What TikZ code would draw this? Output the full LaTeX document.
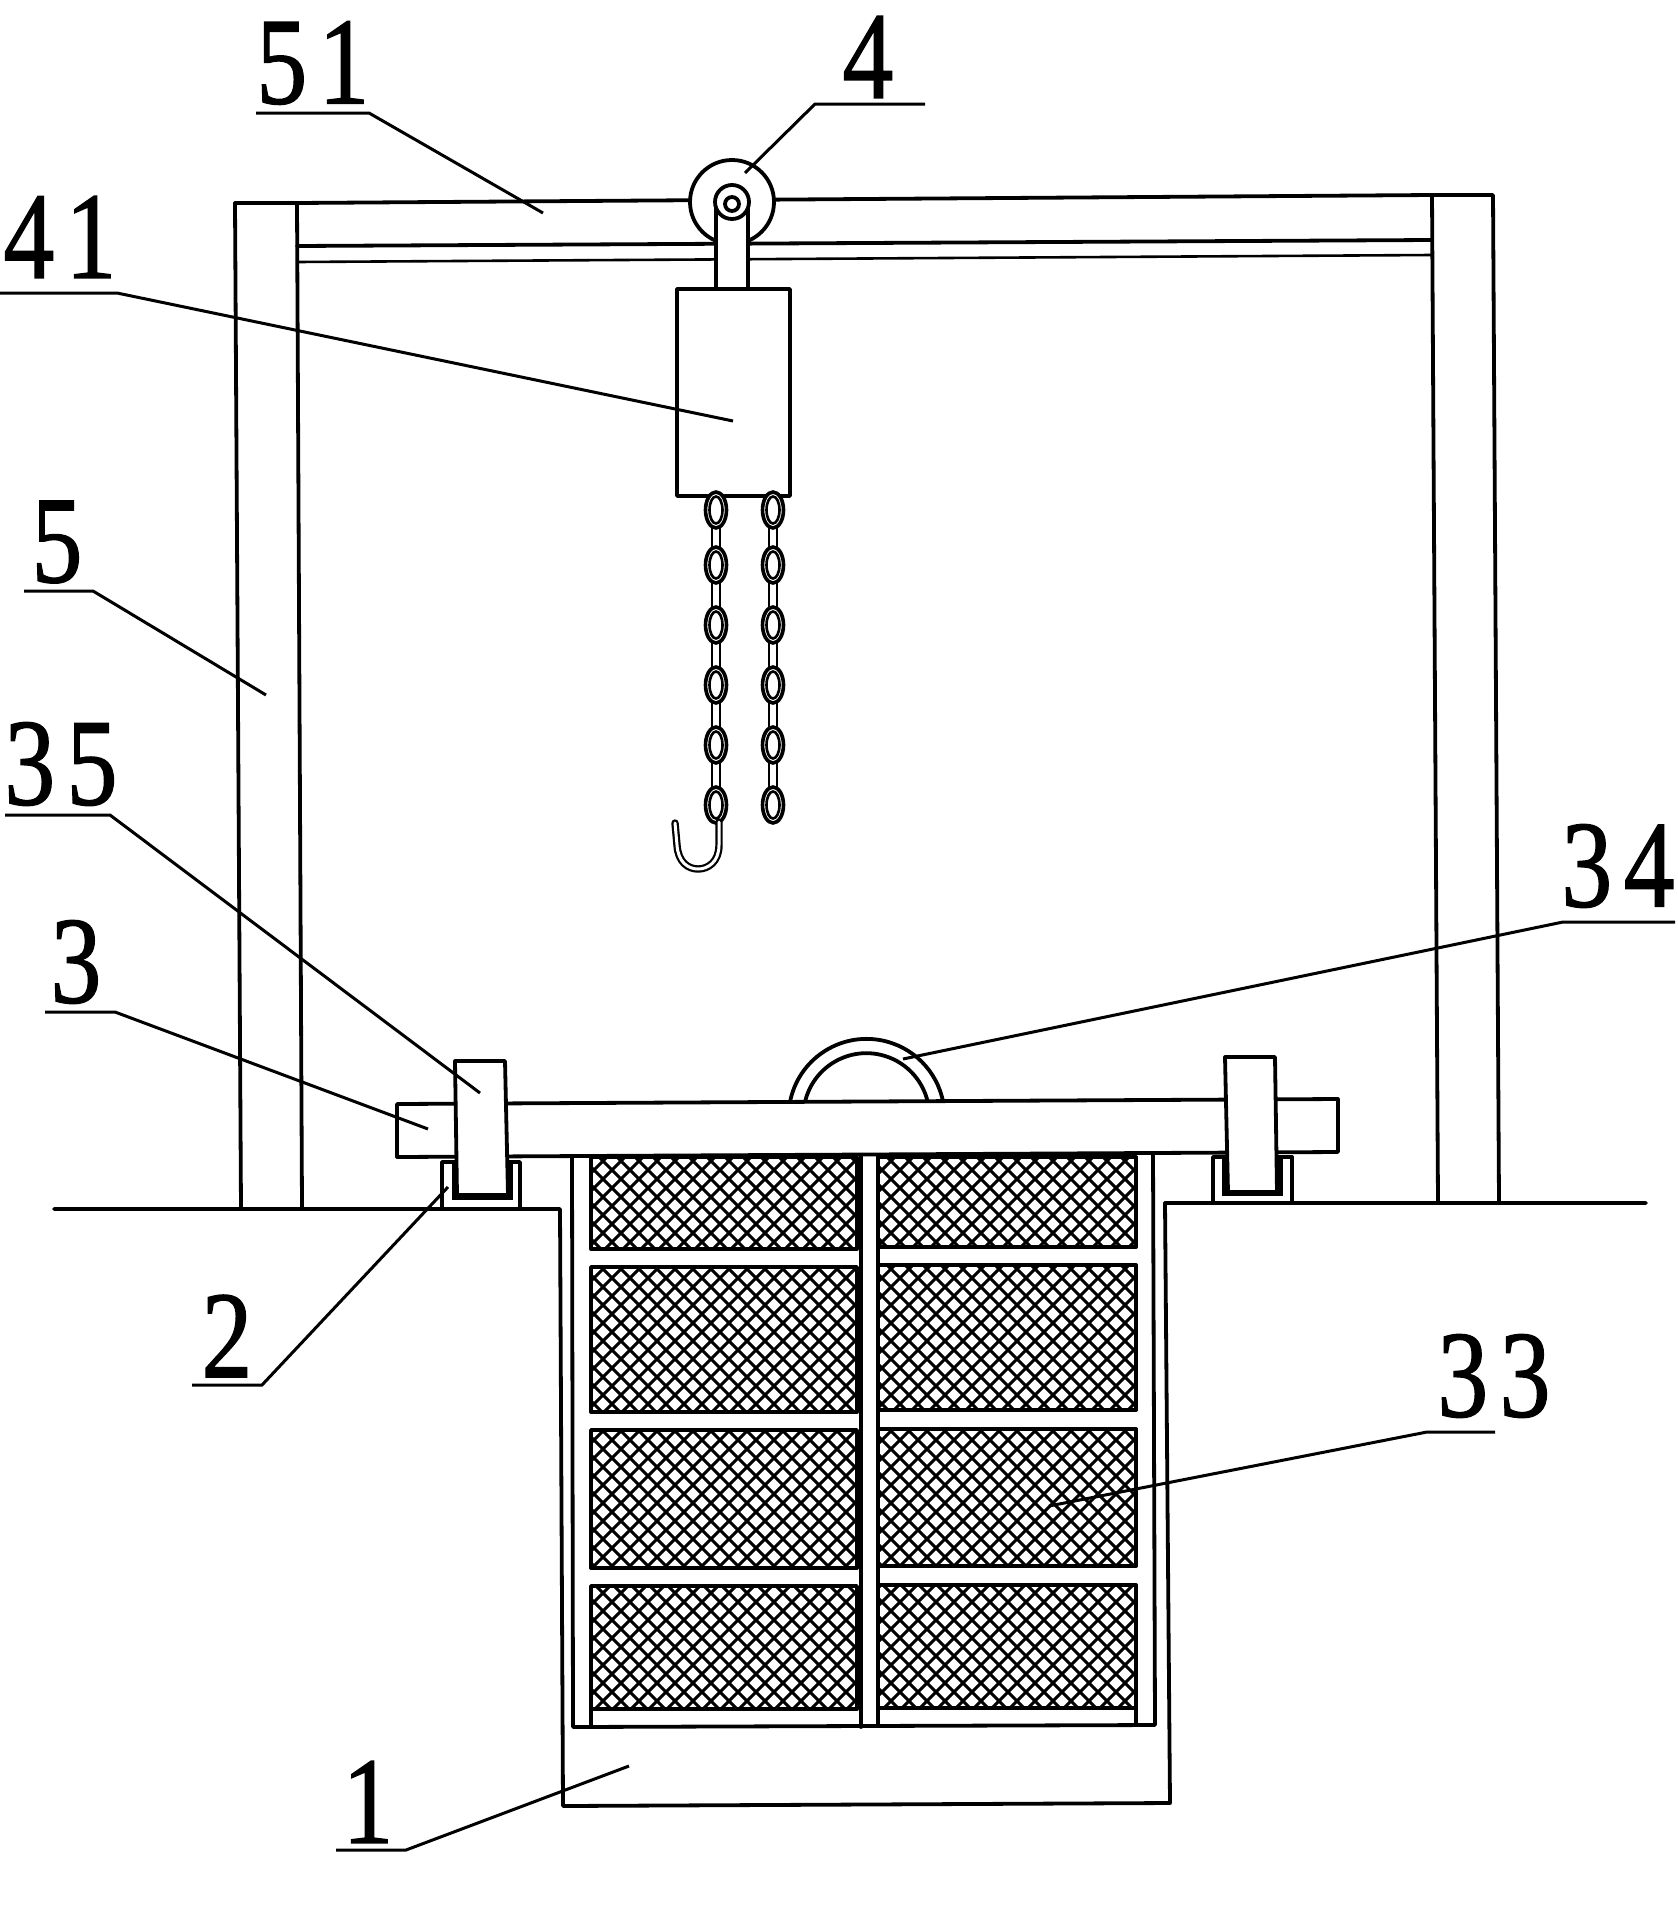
\documentclass[tikz,border=0pt]{standalone}
\usepackage{fontspec}
\setmainfont{Liberation Serif}[RawFeature={embolden=1.2}]
\tikzset{
  ln/.style={line width=1.9pt,line cap=round,line join=round},
  fn/.style={line width=1.3pt,line cap=round,line join=round},
  lead/.style={line width=1.5pt},
  thick u/.style={line width=3.2pt,line join=miter},
  mesh/.style={line width=1.5pt},
  num/.style={inner sep=0pt,font=\fontsize{62}{66}\selectfont}
}
\newcommand{\meshpanel}[4]{%
  \begin{scope}
    \clip (#1,#2) rectangle (#3,#4);
    \foreach \k in {-1440,-1422,...,0} \draw[mesh] (\k+300,300) -- (\k+2100,2100);
    \foreach \k in {1620,1638,...,3060} \draw[mesh] (\k-300,300) -- (\k-2100,2100);
  \end{scope}
  \draw[ln] (#1,#2) rectangle (#3,#4);
}
\newcommand{\dg}{\kern7pt }
\newcommand{\labelled}[8]{% name,text,cx,cy,ux1,ux2,uy,target
  \node[num] (#1) at (#3,#4) {\scalebox{0.82}[1]{#2}};
  \coordinate (#1a) at (#5,#7);
  \coordinate (#1b) at (#6,#7);
  \coordinate (#1t) at #8;
}
\begin{document}
\begin{tikzpicture}[x=0.5pt,y=-0.5pt]
\useasboundingbox (0,0) rectangle (1677,1911);
\fill[white] (0,0) rectangle (1677,1911);

% posts and beam
\draw[ln] (241,1209) -- (235,203) -- (297,203) -- (302,1207);
\draw[ln] (1438,1203) -- (1432,195) -- (1493,195) -- (1499,1203);
\draw[ln] (297,203) -- (1432,195);
\draw[ln] (297,246) -- (1432,240);
\draw[fn] (297,262) -- (1432,255);

% pulley
\draw[ln,fill=white] (732,202) circle[radius=42];
\draw[ln,fill=white] (716,202) -- (716,289) -- (748,289) -- (748,202);
\draw[ln,fill=white] (732,202) circle[radius=17];
\draw[ln,fill=white] (732,204) circle[radius=7];
\draw[ln,fill=white] (677,289) rectangle (790,496);

% chains
\foreach \cx in {716,773} {
  \foreach \cy in {507,565,625,685,745} {
    \draw[fn] (\cx-4,\cy) -- (\cx-4,\cy+60);
    \draw[fn] (\cx+4,\cy) -- (\cx+4,\cy+60);
  }
  \foreach \cy in {510,565,625,685,745,805} {
    \draw[line width=1.8pt,fill=white] (\cx,\cy) ellipse[x radius=10.5,y radius=18];
    \draw[line width=1.3pt] (\cx,\cy) ellipse[x radius=6.5,y radius=13.5];
  }
}
% hook
\draw[line width=1.1pt,double=white,double distance=1.5pt,line cap=round]
  (719,822) -- (719,845) .. controls (719,862) and (708,869) .. (698,869)
  .. controls (688,869) and (678,862) .. (677,845) -- (675,823);

% ring 34
\draw[ln] (790,1102) arc[start angle=191,end angle=349,radius=78];
\draw[ln] (805,1102) arc[start angle=193,end angle=347,radius=63];

% crossbar
\draw[ln,fill=white] (397,1104) -- (1338,1099) -- (1338,1152) -- (397,1157) -- cycle;

% pit
\draw[ln] (54,1209) -- (560,1209) -- (563,1806) -- (1170,1803) -- (1165,1203) -- (1646,1203);

% channels
\draw[ln] (442,1208) -- (442,1162) -- (520,1162) -- (520,1208);
\draw[ln] (1213,1203) -- (1213,1157) -- (1292,1157) -- (1292,1203);
\draw[thick u,fill=white] (455,1160) -- (455,1197) -- (510,1197) -- (510,1160);
\draw[thick u,fill=white] (1225,1155) -- (1225,1193) -- (1280,1193) -- (1280,1155);
% rollers
\draw[ln,fill=white] (455,1061) -- (505,1061) -- (508,1195) -- (457,1195) -- cycle;
\draw[ln,fill=white] (1225,1057) -- (1275,1057) -- (1277,1192) -- (1228,1192) -- cycle;

% basket
\draw[ln] (572,1157) -- (573,1727) -- (1155,1725) -- (1153,1153);
\meshpanel{591}{1157}{857}{1249}
\meshpanel{591}{1267}{857}{1412}
\meshpanel{591}{1430}{857}{1568}
\meshpanel{591}{1586}{857}{1709}
\meshpanel{878}{1157}{1136}{1247}
\meshpanel{878}{1265}{1136}{1410}
\meshpanel{878}{1429}{1136}{1566}
\meshpanel{878}{1585}{1136}{1708}
\draw[ln] (591,1709) -- (591,1727);
\draw[ln] (861,1155) -- (861,1727);
\draw[ln] (878,1155) -- (878,1726);
\draw[ln] (1136,1708) -- (1136,1725);

% labels and leaders
\labelled{n51}{5\dg 1}{313}{63}{256}{369}{113}{(543,213)}
\labelled{n4}{4}{868}{57}{815}{925}{104}{(745,173)}
\labelled{n41}{4\dg 1}{60}{237}{0}{117}{293}{(733,421)}
\labelled{n5}{5}{57}{542}{24}{93}{591}{(266,695)}
\labelled{n35}{3\dg 5}{61}{764}{5}{110}{815}{(480,1093)}
\labelled{n3}{3}{76}{962}{45}{115}{1012}{(428,1129)}
\labelled{n2}{2}{227}{1336}{192}{262}{1385}{(448,1187)}
\labelled{n1}{1}{368}{1802}{336}{406}{1850}{(629,1766)}
\labelled{n33}{3\dg 3}{1494}{1376}{1427}{1495}{1432}{(1049,1506)}
\labelled{n34}{3\dg 4}{1618}{866}{1563}{1675}{922}{(903,1059)}
\draw[lead] (n51a) -- (n51b) -- (n51t);
\draw[lead] (n4b) -- (n4a) -- (n4t);
\draw[lead] (n41a) -- (n41b) -- (n41t);
\draw[lead] (n5a) -- (n5b) -- (n5t);
\draw[lead] (n35a) -- (n35b) -- (n35t);
\draw[lead] (n3a) -- (n3b) -- (n3t);
\draw[lead] (n2a) -- (n2b) -- (n2t);
\draw[lead] (n1a) -- (n1b) -- (n1t);
\draw[lead] (n33b) -- (n33a) -- (n33t);
\draw[lead] (n34b) -- (n34a) -- (n34t);
\end{tikzpicture}
\end{document}
